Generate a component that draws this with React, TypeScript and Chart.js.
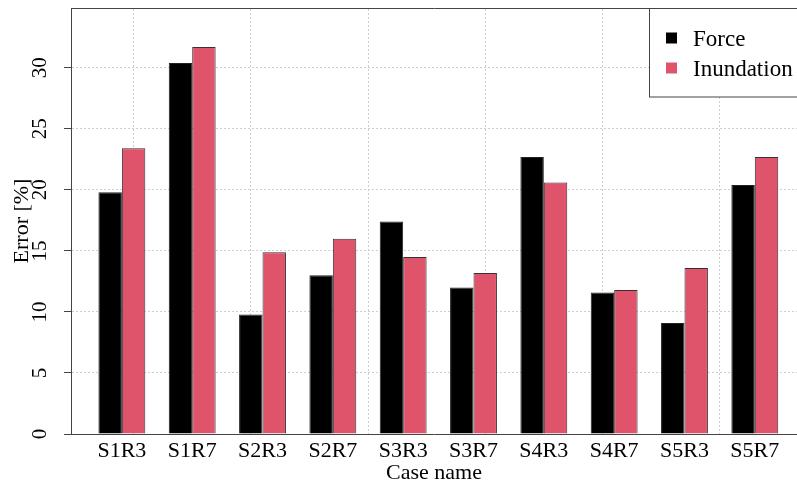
import React, { useEffect, useRef } from 'react';
import { Chart, registerables } from 'chart.js';

Chart.register(...registerables);

const categories = ['S1R3', 'S1R7', 'S2R3', 'S2R7', 'S3R3', 'S3R7', 'S4R3', 'S4R7', 'S5R3', 'S5R7'];
const forceErr = [19.8, 30.4, 9.8, 13.0, 17.4, 12.0, 22.7, 11.6, 9.1, 20.4];
const inundationErr = [23.4, 31.7, 14.9, 16.0, 14.5, 13.2, 20.6, 11.8, 13.6, 22.7];
const seriesNames = ['Force', 'Inundation'];
const seriesColors = ['#000000', '#DF536B'];
// bar-group centres in barplot units (R beside=TRUE coordinates)
const groupCenters = [2, 5, 8, 11, 14, 17, 20, 23, 26, 29];
const xGridTicks = [0, 5, 10, 15, 20, 25, 30];
const yTicks = [0, 5, 10, 15, 20, 25, 30];

const X_MIN = -0.17;
const X_MAX = 30.8;
const Y_MAX = 34.9;
const FONT = "'Liberation Serif', 'Times New Roman', serif";

const boxLegend = {
  id: 'boxLegend',
  afterDraw(chart: any) {
    const ctx = chart.ctx;
    const left = 649.5;
    const top = 8.5;
    const bottom = 97;
    ctx.save();
    ctx.fillStyle = '#ffffff';
    ctx.fillRect(left, top, 200, bottom - top);
    ctx.strokeStyle = '#444444';
    ctx.lineWidth = 1;
    ctx.strokeRect(left, top, 200, bottom - top);
    const rowsY = [38, 68];
    ctx.font = `23px ${FONT}`;
    ctx.textBaseline = 'alphabetic';
    ctx.textAlign = 'left';
    chart.data.datasets.forEach((ds: any, i: number) => {
      const cy = rowsY[i];
      ctx.fillStyle = ds.backgroundColor;
      ctx.fillRect(666, cy - 5.5, 11, 11);
      ctx.fillStyle = '#000000';
      ctx.fillText(ds.label, 693, cy + 8);
    });
    ctx.restore();
  },
};

export default function App() {
  const ref = useRef<HTMLCanvasElement | null>(null);

  useEffect(() => {
    if (!ref.current) return;
    Chart.defaults.font.family = FONT;
    Chart.defaults.color = '#000000';
    const chart = new Chart(ref.current, {
      type: 'bar',
      data: {
        datasets: [
          {
            label: seriesNames[0],
            data: groupCenters.map((x, i) => ({ x, y: forceErr[i] })),
            backgroundColor: seriesColors[0],
            borderColor: '#222222',
            borderWidth: 1,
            categoryPercentage: 2 / 3,
            barPercentage: 1,
          },
          {
            label: seriesNames[1],
            data: groupCenters.map((x, i) => ({ x, y: inundationErr[i] })),
            backgroundColor: seriesColors[1],
            borderColor: '#333333',
            borderWidth: 1,
            categoryPercentage: 2 / 3,
            barPercentage: 1,
          },
        ],
      },
      options: {
        responsive: false,
        animation: false,
        devicePixelRatio: 1,
        layout: { padding: { top: 8, left: 0, right: 0, bottom: 0 } },
        plugins: { legend: { display: false }, tooltip: { enabled: false } },
        scales: {
          x: {
            type: 'linear',
            position: 'bottom',
            min: X_MIN,
            max: X_MAX,
            offset: false,
            z: 1,
            grid: { display: false, drawTicks: false, offset: false },
            border: { display: true, color: '#444444', width: 1 },
            afterBuildTicks: (s: any) => {
              s.ticks = groupCenters.map((v) => ({ value: v }));
            },
            ticks: {
              autoSkip: false,
              maxRotation: 0,
              minRotation: 0,
              padding: 4,
              font: { size: 22 },
              color: '#000000',
              callback: (_v: any, i: number) => categories[i],
            },
            title: {
              display: true,
              text: 'Case name',
              padding: 0,
              font: { size: 22 },
              color: '#000000',
            },
            afterFit: (s: any) => {
              s.height = 52;
              s.paddingLeft = 0;
              s.paddingRight = 0;
            },
          },
          xg: {
            type: 'linear',
            position: 'top',
            min: X_MIN,
            max: X_MAX,
            offset: false,
            z: 1,
            grid: { color: '#cfcfcf', drawTicks: false },
            border: { display: true, color: '#444444', width: 1, dash: [2, 2] },
            afterBuildTicks: (s: any) => {
              s.ticks = xGridTicks.map((v) => ({ value: v }));
            },
            ticks: { display: false },
            afterFit: (s: any) => {
              s.height = 0;
              s.paddingLeft = 0;
              s.paddingRight = 0;
            },
          },
          y: {
            type: 'linear',
            min: 0,
            max: Y_MAX,
            z: 1,
            afterBuildTicks: (s: any) => {
              s.ticks = yTicks.map((v) => ({ value: v }));
            },
            ticks: {
              minRotation: 90,
              maxRotation: 90,
              crossAlign: 'center',
              padding: 13,
              font: { size: 21 },
              color: '#000000',
            },
            grid: {
              color: (c: any) => (c.tick && c.tick.value === 0 ? 'rgba(0,0,0,0)' : '#cfcfcf'),
              drawTicks: true,
              tickLength: 7,
              tickColor: '#444444',
              tickBorderDash: [],
              tickWidth: 1,
            },
            border: { display: true, color: '#444444', width: 1, dash: [2, 2] },
            title: {
              display: true,
              text: 'Error [%]',
              padding: { top: 9, bottom: 0 },
              font: { size: 22 },
              color: '#000000',
            },
            afterFit: (s: any) => {
              s.width = 71;
              s.paddingTop = 0;
              s.paddingBottom = 0;
            },
          },
        },
      } as any,
      plugins: [boxLegend],
    });
    return () => chart.destroy();
  }, []);

  return (
    <div style={{ position: 'fixed', left: 0, top: 0, width: 797, height: 486, overflow: 'hidden', background: '#fff' }}>
      <canvas ref={ref} width={797} height={486} style={{ display: 'block' }} />
    </div>
  );
}
